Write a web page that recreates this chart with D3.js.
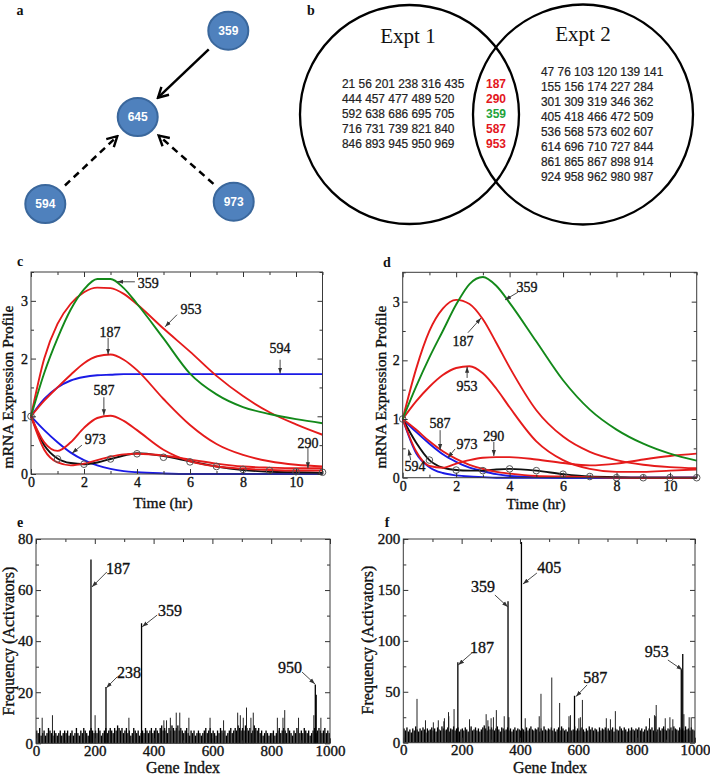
<!DOCTYPE html>
<html><head><meta charset="utf-8">
<script src="https://cdn.jsdelivr.net/npm/d3@7"></script>
<style>body{margin:0;background:#fff}</style>
</head><body><svg id="fig" width="710" height="775" xmlns="http://www.w3.org/2000/svg"></svg>
<script>
// ================= DATA =================
// (a) network
const networkNodes = ["359", "645", "594", "973"];
const networkEdges = [
  {source: "359", target: "645", kind: "solid"},
  {source: "594", target: "645", kind: "dashed"},
  {source: "973", target: "645", kind: "dashed"}
];
// (b) Venn diagram
const vennTitles = ["Expt 1", "Expt 2"];
const expt1Only = ["21 56 201 238 316 435", "444 457 477 489 520", "592 638 686 695 705", "716 731 739 821 840", "846 893 945 950 969"];
const sharedGenes = ["187", "290", "359", "587", "953"];
const sharedTarget = ["359"];
const expt2Only = ["47 76 103 120 139 141", "155 156 174 227 284", "301 309 319 346 362", "405 418 466 472 509", "536 568 573 602 607", "614 696 710 727 844", "861 865 867 898 914", "924 958 962 980 987"];

// (c),(d) time courses
const timeGrid = [0, 0.5, 1, 1.5, 2, 2.5, 3, 3.5, 4, 5, 6, 7, 8, 9, 10, 11];
const sampleTimes = [0, 1, 2, 3, 4, 5, 6, 7, 8, 9, 10, 11];
const timeTicks = [0, 2, 4, 6, 8, 10];
const timeMinor = [1, 3, 5, 7, 9, 11];
const exprTicks = [0, 1, 2, 3];
const exprMinor = [0.5, 1.5, 2.5, 3.5];

const cGene359 = [1, 1.75, 2.35, 2.85, 3.2, 3.38, 3.38, 3.22, 2.95, 2.35, 1.74, 1.38, 1.16, 1.04, 0.95, 0.88];
const cGene953 = [1, 2.0, 2.6, 2.95, 3.15, 3.23, 3.22, 3.12, 2.94, 2.52, 2.12, 1.7, 1.35, 1.07, 0.86, 0.68];
const cGene187 = [1, 1.27, 1.5, 1.72, 1.92, 2.04, 2.07, 1.98, 1.8, 1.3, 0.85, 0.52, 0.33, 0.22, 0.16, 0.13];
const cGene594 = [1, 1.3, 1.5, 1.62, 1.68, 1.71, 1.72, 1.73, 1.73, 1.73, 1.73, 1.73, 1.73, 1.73, 1.73, 1.73];
const cGene587 = [1, 0.55, 0.4, 0.55, 0.8, 0.97, 1.01, 0.92, 0.76, 0.42, 0.22, 0.13, 0.09, 0.07, 0.06, 0.06];
const cGene973 = [1, 0.76, 0.55, 0.37, 0.24, 0.15, 0.09, 0.05, 0.03, 0.01, 0, 0, 0, 0, 0, 0];
const cGene290 = [1, 0.42, 0.2, 0.15, 0.18, 0.24, 0.3, 0.34, 0.35, 0.32, 0.25, 0.18, 0.13, 0.11, 0.1, 0.1];
const cGene645 = [1, 0.5, 0.27, 0.19, 0.17, 0.2, 0.26, 0.32, 0.36, 0.31, 0.22, 0.13, 0.07, 0.04, 0.03, 0.02];
const cObserved = [1, 0.26, 0.17, 0.26, 0.35, 0.29, 0.21, 0.13, 0.08, 0.06, 0.04, 0.03];

const dGene359 = [1, 1.55, 2.05, 2.5, 2.95, 3.3, 3.42, 3.27, 2.98, 2.32, 1.66, 1.16, 0.82, 0.58, 0.41, 0.29];
const dGene187 = [1, 1.85, 2.5, 2.88, 3.03, 2.96, 2.7, 2.3, 1.88, 1.15, 0.7, 0.44, 0.3, 0.22, 0.18, 0.16];
const dGene953 = [1, 1.3, 1.55, 1.75, 1.87, 1.9, 1.78, 1.52, 1.2, 0.62, 0.3, 0.15, 0.1, 0.1, 0.12, 0.14];
const dGene290 = [1, 0.45, 0.2, 0.17, 0.24, 0.3, 0.34, 0.35, 0.35, 0.31, 0.25, 0.21, 0.24, 0.31, 0.37, 0.41];
const dGene587 = [1, 0.82, 0.62, 0.45, 0.32, 0.22, 0.15, 0.1, 0.07, 0.03, 0.02, 0.01, 0, 0, 0, 0];
const dGene973 = [1, 0.78, 0.58, 0.4, 0.27, 0.17, 0.11, 0.06, 0.03, 0.01, 0, 0, 0, 0, 0, 0];
const dGene594 = [1, 0.42, 0.18, 0.08, 0.04, 0.02, 0.01, 0, 0, 0, 0, 0, 0, 0, 0, 0];
const dGene645 = [1, 0.6, 0.3, 0.17, 0.13, 0.12, 0.12, 0.14, 0.15, 0.12, 0.06, 0.02, 0.01, 0, 0, 0];
const dObserved = [1, 0.3, 0.13, 0.12, 0.15, 0.12, 0.06, 0.02, 0, 0, 0, 0];

// annotations in data units: label, text position, arrow start, arrow tip
const cNotes = [
  {label: "359", t: [4.42, 3.31], from: [3.92, 3.33], to: [3.25, 3.33]},
  {label: "953", t: [6.04, 2.86], from: [5.51, 2.76], to: [5.06, 2.55]},
  {label: "187", t: [2.98, 2.46], from: [2.91, 2.36], to: [2.91, 2.07]},
  {label: "594", t: [9.4, 2.18], from: [9.4, 1.98], to: [9.4, 1.74]},
  {label: "587", t: [2.75, 1.46], from: [2.75, 1.33], to: [2.75, 1.02]},
  {label: "973", t: [2.42, 0.61], from: [1.92, 0.5], to: [1.55, 0.36]},
  {label: "290", t: [10.45, 0.54], from: [10.45, 0.45], to: [10.45, 0.1]}
];
const dNotes = [
  {label: "359", t: [4.65, 3.25], from: [4.31, 3.16], to: [3.83, 3.03]},
  {label: "187", t: [2.26, 2.33], from: [2.44, 2.47], to: [2.93, 2.72]},
  {label: "953", t: [2.41, 1.56], from: [2.41, 1.7], to: [2.41, 1.89]},
  {label: "587", t: [1.4, 0.93], from: [1.4, 0.81], to: [1.4, 0.47]},
  {label: "973", t: [2.41, 0.57], from: [1.96, 0.49], to: [1.69, 0.34]},
  {label: "290", t: [3.41, 0.71], from: [3.41, 0.61], to: [3.41, 0.37]},
  {label: "594", t: [0.46, 0.2], from: [0.3, 0.3], to: [0.22, 0.48]}
];

// (e),(f) activator frequency per gene (background in bins of 5 genes)
const geneBin = 5;
const geneTicks = [0, 200, 400, 600, 800, 1000];
const geneMinor = [100, 300, 500, 700, 900];
const eFreqTicks = [0, 20, 40, 60, 80];
const eFreqMinor = [10, 30, 50, 70];
const fFreqTicks = [0, 50, 100, 150, 200];
const fFreqMinor = [25, 75, 125, 175];

const eBackground = [
  5,4,6,3,4,5,3,4,6,5,4,3,5,4,3,4,5,3,4,5,
  4,5,3,4,5,3,4,6,4,3,5,4,6,5,4,3,5,6,5,4,
  5,4,6,5,3,4,5,6,4,5,6,5,4,6,5,7,6,5,6,4,
  5,6,4,5,3,4,6,5,4,5,3,4,5,4,6,5,4,5,6,4,
  5,6,5,4,6,7,5,6,5,4,6,5,7,6,5,6,7,5,6,5,
  4,5,6,4,3,5,4,5,3,4,5,4,3,4,5,6,4,5,6,4,
  5,4,3,5,4,6,5,4,5,3,4,5,6,4,5,6,5,7,6,5,
  6,5,7,6,5,6,4,5,7,6,5,6,4,5,3,4,5,4,3,4,
  4,5,3,4,5,6,4,5,6,5,4,6,5,4,3,5,4,6,5,4,
  5,4,6,5,4,5,3,4,5,6,4,5,6,5,4,5,6,4,5,4
];
const eSpikeGenes = [187, 238, 359, 950, 953];
const eSpikeValues = [72, 22, 47, 23, 19];
const eMinorGenes = [21, 56, 201, 316, 435, 444, 457, 477, 489, 520, 592, 638, 686, 695, 705, 716, 731, 739, 821, 840, 846, 893, 945, 969];
const eMinorValues = [10, 11, 11, 10, 9, 9, 10, 12, 12, 10, 10, 9, 12, 11, 10, 14, 10, 12, 10, 10, 13, 10, 11, 10];
const eNotes = [
  {label: "187", t: [279, 68.6], from: [241, 67.1], to: [190, 61.2]},
  {label: "359", t: [456, 52.2], from: [412, 50.2], to: [361, 45.6]},
  {label: "238", t: [316, 27.9], from: [276, 26], to: [239, 21.7]},
  {label: "950", t: [864, 29.9], from: [905, 27.9], to: [949, 23.2]}
];

const fBackground = [
  14,12,15,11,13,10,14,12,16,13,11,14,12,15,13,10,14,12,13,15,
  12,14,11,15,13,12,16,14,12,13,15,11,14,13,16,12,14,15,11,13,
  14,12,15,13,11,14,16,12,13,15,12,14,11,13,15,17,14,12,16,13,
  15,13,12,14,16,13,11,15,14,12,13,15,12,14,11,13,15,12,14,13,
  12,14,13,11,15,12,14,16,13,12,14,13,15,11,14,12,16,13,12,14,
  13,15,12,14,11,13,15,12,16,14,12,13,11,15,14,12,13,16,12,14,
  12,14,15,13,11,14,12,16,13,15,12,14,13,11,15,12,14,13,15,12,
  14,12,13,15,11,14,13,12,16,14,12,15,13,11,14,12,15,13,12,14,
  13,15,12,14,11,13,16,12,14,13,15,12,14,11,13,15,12,14,16,13,
  12,14,13,15,12,16,14,13,12,15,13,14,12,16,13,14,12,15,13,12
];
const fSpikeGenes = [187, 359, 405, 587, 953, 958];
const fSpikeValues = [79, 139, 197, 46, 72, 87];
const fMinorGenes = [47, 76, 103, 120, 139, 141, 155, 156, 174, 227, 284, 290, 301, 309, 319, 346, 362, 418, 466, 472, 509, 536, 568, 573, 602, 607, 614, 696, 710, 727, 844, 861, 865, 867, 898, 914, 924, 962, 980, 987];
const fMinorValues = [43, 22, 20, 22, 21, 24, 30, 26, 33, 23, 28, 22, 24, 25, 32, 26, 25, 24, 26, 48, 64, 39, 26, 27, 24, 25, 42, 24, 23, 31, 24, 27, 26, 37, 24, 25, 23, 28, 25, 25];
const fNotes = [
  {label: "405", t: [500, 172.5], from: [458, 166.6], to: [410, 155.8]},
  {label: "359", t: [273, 153.9], from: [314, 145], to: [359, 133.2]},
  {label: "187", t: [270, 94], from: [235, 88.1], to: [188, 76.3]},
  {label: "587", t: [658, 64.5], from: [630, 56.7], to: [592, 45.3]},
  {label: "953", t: [869, 90], from: [907, 81.2], to: [957, 71.4]}
];

// ================= STYLE / LAYOUT =================
const serif = "'Liberation Serif','Times New Roman',Times,serif";
const sans = "'Liberation Sans',Arial,sans-serif";
const RED = "#e51b1b", GREEN = "#13891a", BLUE = "#1a1ae6", BLACK = "#111";
const TXT = "#111", TXT_STROKE = 0.35;

const svg = d3.select("#fig");
const defs = svg.append("defs");
defs.append("marker").attr("id", "ann").attr("viewBox", "0 0 10 10")
  .attr("refX", 10).attr("refY", 5).attr("markerUnits", "userSpaceOnUse")
  .attr("markerWidth", 6).attr("markerHeight", 6).attr("orient", "auto")
  .append("path").attr("d", "M0,1.5L10,5L0,8.5Z").attr("fill", "#333");
defs.append("marker").attr("id", "chev").attr("viewBox", "0 0 14 14")
  .attr("refX", 12).attr("refY", 7).attr("markerUnits", "userSpaceOnUse")
  .attr("markerWidth", 14).attr("markerHeight", 14).attr("orient", "auto")
  .append("path").attr("d", "M2,1.5L12,7L2,12.5").attr("fill", "none")
  .attr("stroke", "#000").attr("stroke-width", 2.4).attr("stroke-linejoin", "miter");

function heavy(sel) { return sel.attr("fill", TXT).attr("stroke", TXT).attr("stroke-width", TXT_STROKE); }

function letter(t, x, y) {
  svg.append("text").text(t).attr("x", x).attr("y", y).attr("text-anchor", "middle")
    .attr("font-family", serif).attr("font-weight", "bold").attr("font-size", 14).attr("fill", "#111");
}
letter("a", 20, 15); letter("b", 311, 15); letter("c", 20, 266); letter("d", 387, 267);
letter("e", 20, 527); letter("f", 387, 527);

// ---------- panel a ----------
const nodePos = {"359": [228.3, 30.7], "645": [137.7, 117], "594": [45.3, 204], "973": [233.7, 201.7]};
const ga = svg.append("g");
networkEdges.forEach(e => {
  const [sx, sy] = nodePos[e.source], [tx, ty] = nodePos[e.target];
  const L = Math.hypot(tx - sx, ty - sy), ux = (tx - sx) / L, uy = (ty - sy) / L;
  ga.append("line").attr("x1", sx + ux * 27).attr("y1", sy + uy * 27)
    .attr("x2", tx - ux * 28).attr("y2", ty - uy * 28)
    .attr("stroke", "#000").attr("stroke-width", 2.5)
    .attr("stroke-dasharray", e.kind === "dashed" ? "7,5" : null)
    .attr("marker-end", "url(#chev)");
});
networkNodes.forEach(n => {
  const [cx, cy] = nodePos[n];
  ga.append("ellipse").attr("cx", cx).attr("cy", cy).attr("rx", 20).attr("ry", 19)
    .attr("fill", "#4f81bd").attr("stroke", "#3a679c").attr("stroke-width", 2);
  ga.append("text").text(n).attr("x", cx).attr("y", cy).attr("dy", "0.35em")
    .attr("text-anchor", "middle").attr("font-family", sans).attr("font-weight", "bold")
    .attr("font-size", 12).attr("fill", "#fff");
});

// ---------- panel b ----------
const gb = svg.append("g");
const vennCircles = [[409.5, 114.5, 109.5], [583, 114.5, 110]];
vennCircles.forEach(c => gb.append("circle").attr("cx", c[0]).attr("cy", c[1]).attr("r", c[2])
  .attr("fill", "none").attr("stroke", "#000").attr("stroke-width", 2.3));
const titlePos = [[408, 43], [583, 41]];
vennTitles.forEach((t, i) => gb.append("text").text(t).attr("x", titlePos[i][0]).attr("y", titlePos[i][1])
  .attr("text-anchor", "middle").attr("font-family", serif).attr("font-size", 21).attr("fill", "#111"));
gb.selectAll("text.e1").data(expt1Only).join("text").attr("class", "e1")
  .attr("x", 342).attr("y", (d, i) => 88 + i * 15).text(d => d)
  .attr("font-family", sans).attr("font-size", 11.9).attr("fill", "#222")
  .attr("stroke", "#222").attr("stroke-width", 0.2);
gb.selectAll("text.sh").data(sharedGenes).join("text").attr("class", "sh")
  .attr("x", 496).attr("y", (d, i) => 88 + i * 15).text(d => d).attr("text-anchor", "middle")
  .attr("font-family", sans).attr("font-weight", "bold").attr("font-size", 12)
  .attr("fill", d => sharedTarget.includes(d) ? "#22a33a" : "#e3161d");
gb.selectAll("text.e2").data(expt2Only).join("text").attr("class", "e2")
  .attr("x", 541).attr("y", (d, i) => 76 + i * 15).text(d => d)
  .attr("font-family", sans).attr("font-size", 11.9).attr("fill", "#222")
  .attr("stroke", "#222").attr("stroke-width", 0.2);

// ---------- generic framed panel ----------
let clipN = 0;
function makePanel(o) {
  const x = d3.scaleLinear().domain(o.xDomain).range(o.xRange);
  const y = d3.scaleLinear().domain(o.yDomain).range(o.yRange);
  const id = "clip" + (clipN++);
  defs.append("clipPath").attr("id", id).append("rect")
    .attr("x", o.xRange[0] - 1.5).attr("y", o.yRange[1] - 1.5)
    .attr("width", o.xRange[1] - o.xRange[0] + 3).attr("height", o.yRange[0] - o.yRange[1] + 3);
  const g = svg.append("g");
  const plot = g.append("g").attr("clip-path", `url(#${id})`);
  return {o, x, y, g, plot};
}
function styleAxis(sel, fs) {
  sel.select(".domain").remove();
  sel.selectAll(".tick line").attr("stroke", "#333").attr("stroke-width", 1);
  sel.selectAll(".tick text").attr("font-family", serif).attr("font-size", fs).call(heavy);
}
function drawAxes(p) {
  const {o, x, y, g} = p;
  const [x0, x1] = o.xRange, [y0, y1] = o.yRange;
  const A = g.append("g");
  const fmt = d3.format("d");
  A.append("g").attr("transform", `translate(0,${y0})`)
    .call(d3.axisBottom(x).tickValues(o.xTicks).tickSizeInner(-o.major).tickSizeOuter(0).tickPadding(o.xPad).tickFormat(fmt))
    .call(styleAxis, o.fs);
  A.append("g").attr("transform", `translate(0,${y0})`)
    .call(d3.axisBottom(x).tickValues(o.xMinor).tickSizeInner(-o.minor).tickSizeOuter(0).tickFormat(""))
    .call(styleAxis, o.fs);
  A.append("g").attr("transform", `translate(0,${y1})`)
    .call(d3.axisTop(x).tickValues(o.xTicks.concat(o.xMinor)).tickSizeInner(-o.major).tickSizeOuter(0).tickFormat(""))
    .call(styleAxis, o.fs)
    .call(s => s.selectAll(".tick line").filter(d => o.xMinor.includes(d)).attr("y2", o.minor));
  A.append("g").attr("transform", `translate(${x0},0)`)
    .call(d3.axisLeft(y).tickValues(o.yTicks).tickSizeInner(-o.major).tickSizeOuter(0).tickPadding(o.yPad).tickFormat(fmt))
    .call(styleAxis, o.fs);
  A.append("g").attr("transform", `translate(${x0},0)`)
    .call(d3.axisLeft(y).tickValues(o.yMinor).tickSizeInner(-o.minor).tickSizeOuter(0).tickFormat(""))
    .call(styleAxis, o.fs);
  A.append("g").attr("transform", `translate(${x1},0)`)
    .call(d3.axisRight(y).tickValues(o.yTicks.concat(o.yMinor)).tickSizeInner(-o.major).tickSizeOuter(0).tickFormat(""))
    .call(styleAxis, o.fs)
    .call(s => s.selectAll(".tick line").filter(d => o.yMinor.includes(d)).attr("x2", -o.minor));
  A.append("rect").attr("x", x0).attr("y", y1).attr("width", x1 - x0).attr("height", y0 - y1)
    .attr("fill", "none").attr("stroke", "#3a3a3a").attr("stroke-width", 1);
  // titles
  g.append("text").text(o.xTitle).attr("x", o.xTitlePos[0]).attr("y", o.xTitlePos[1])
    .attr("text-anchor", "middle").attr("font-family", serif).attr("font-size", o.tfs).call(heavy);
  g.append("text").text(o.yTitle).attr("transform", `translate(${o.yTitlePos[0]},${o.yTitlePos[1]}) rotate(-90)`)
    .attr("dy", "0.35em").attr("text-anchor", "middle").attr("font-family", serif).attr("font-size", o.tfs).call(heavy);
}
function drawNotes(p, notes, fs) {
  const {x, y, g} = p;
  notes.forEach(n => {
    g.append("line").attr("x1", x(n.from[0])).attr("y1", y(n.from[1]))
      .attr("x2", x(n.to[0])).attr("y2", y(n.to[1]))
      .attr("stroke", "#333").attr("stroke-width", 0.9).attr("marker-end", "url(#ann)");
    g.append("text").text(n.label).attr("x", x(n.t[0])).attr("y", y(n.t[1])).attr("dy", "0.35em")
      .attr("text-anchor", "middle").attr("font-family", serif).attr("font-size", fs).call(heavy);
  });
}

// ---------- panels c, d ----------
function timePanel(o, series, observed, notes) {
  const p = makePanel(Object.assign({
    xDomain: [0, 11], yDomain: [0, 3.5], xTicks: timeTicks, xMinor: timeMinor,
    yTicks: exprTicks, yMinor: exprMinor, major: 5, minor: 3, fs: 14, tfs: 15.5, xPad: 3, yPad: 3,
    xTitle: "Time (hr)", yTitle: "mRNA Expression Profile"
  }, o));
  const line = d3.line().x((d, i) => p.x(timeGrid[i])).y(d => p.y(d)).curve(d3.curveMonotoneX);
  series.forEach(s => p.plot.append("path").attr("d", line(s.values)).attr("fill", "none")
    .attr("stroke", s.color).attr("stroke-width", 1.9));
  p.g.selectAll("circle.obs").data(observed).join("circle").attr("class", "obs")
    .attr("cx", (d, i) => p.x(sampleTimes[i])).attr("cy", d => p.y(d)).attr("r", 3.3)
    .attr("fill", "none").attr("stroke", "#555").attr("stroke-width", 1);
  drawAxes(p);
  drawNotes(p, notes, 14);
  return p;
}
timePanel({xRange: [31, 322.5], yRange: [474, 272], xTitlePos: [163, 508], yTitlePos: [8, 387]}, [
  {values: cGene594, color: BLUE}, {values: cGene973, color: BLUE}, {values: cGene645, color: BLACK},
  {values: cGene290, color: RED}, {values: cGene587, color: RED}, {values: cGene187, color: RED},
  {values: cGene953, color: RED}, {values: cGene359, color: GREEN}
], cObserved, cNotes);
timePanel({xRange: [402.7, 696.7], yRange: [477.7, 272.3], xTitlePos: [536, 509], yTitlePos: [381, 387]}, [
  {values: dGene594, color: BLUE}, {values: dGene973, color: BLUE}, {values: dGene645, color: BLACK},
  {values: dGene290, color: RED}, {values: dGene587, color: RED}, {values: dGene187, color: RED},
  {values: dGene953, color: RED}, {values: dGene359, color: GREEN}
], dObserved, dNotes);

// ---------- panels e, f ----------
function histPanel(o, background, minorG, minorV, spikeG, spikeV, notes) {
  const p = makePanel(Object.assign({
    xDomain: [0, 1000], xTicks: geneTicks, xMinor: geneMinor, major: 5, minor: 3,
    fs: 15, tfs: 16, xPad: 2, yPad: 3, xTitle: "Gene Index", yTitle: "Frequency (Activators)"
  }, o));
  const {x, y, plot} = p;
  const bw = x(geneBin) - x(0);
  plot.selectAll("rect.bg").data(background).join("rect").attr("class", "bg")
    .attr("x", (d, i) => x(i * geneBin) + bw * 0.05).attr("width", bw * 0.9)
    .attr("y", d => y(d)).attr("height", d => y(0) - y(d)).attr("fill", "#000");
  plot.selectAll("line.mn").data(minorV).join("line").attr("class", "mn")
    .attr("x1", (d, i) => x(minorG[i])).attr("x2", (d, i) => x(minorG[i]))
    .attr("y1", y(0)).attr("y2", d => y(d)).attr("stroke", "#222").attr("stroke-width", 1);
  plot.selectAll("line.sp").data(spikeV).join("line").attr("class", "sp")
    .attr("x1", (d, i) => x(spikeG[i])).attr("x2", (d, i) => x(spikeG[i]))
    .attr("y1", y(0)).attr("y2", d => y(d)).attr("stroke", "#000").attr("stroke-width", 1.3);
  drawAxes(p);
  drawNotes(p, notes, 16);
  return p;
}
histPanel({xRange: [36, 330], yRange: [743.3, 539], yDomain: [0, 80], yTicks: eFreqTicks, yMinor: eFreqMinor,
  xTitlePos: [183, 773], yTitlePos: [8, 641]}, eBackground, eMinorGenes, eMinorValues, eSpikeGenes, eSpikeValues, eNotes);
histPanel({xRange: [403.3, 695], yRange: [742.7, 539], yDomain: [0, 200], yTicks: fFreqTicks, yMinor: fFreqMinor,
  xTitlePos: [550, 773], yTitlePos: [367, 640]}, fBackground, fMinorGenes, fMinorValues, fSpikeGenes, fSpikeValues, fNotes);
</script>
</body></html>
